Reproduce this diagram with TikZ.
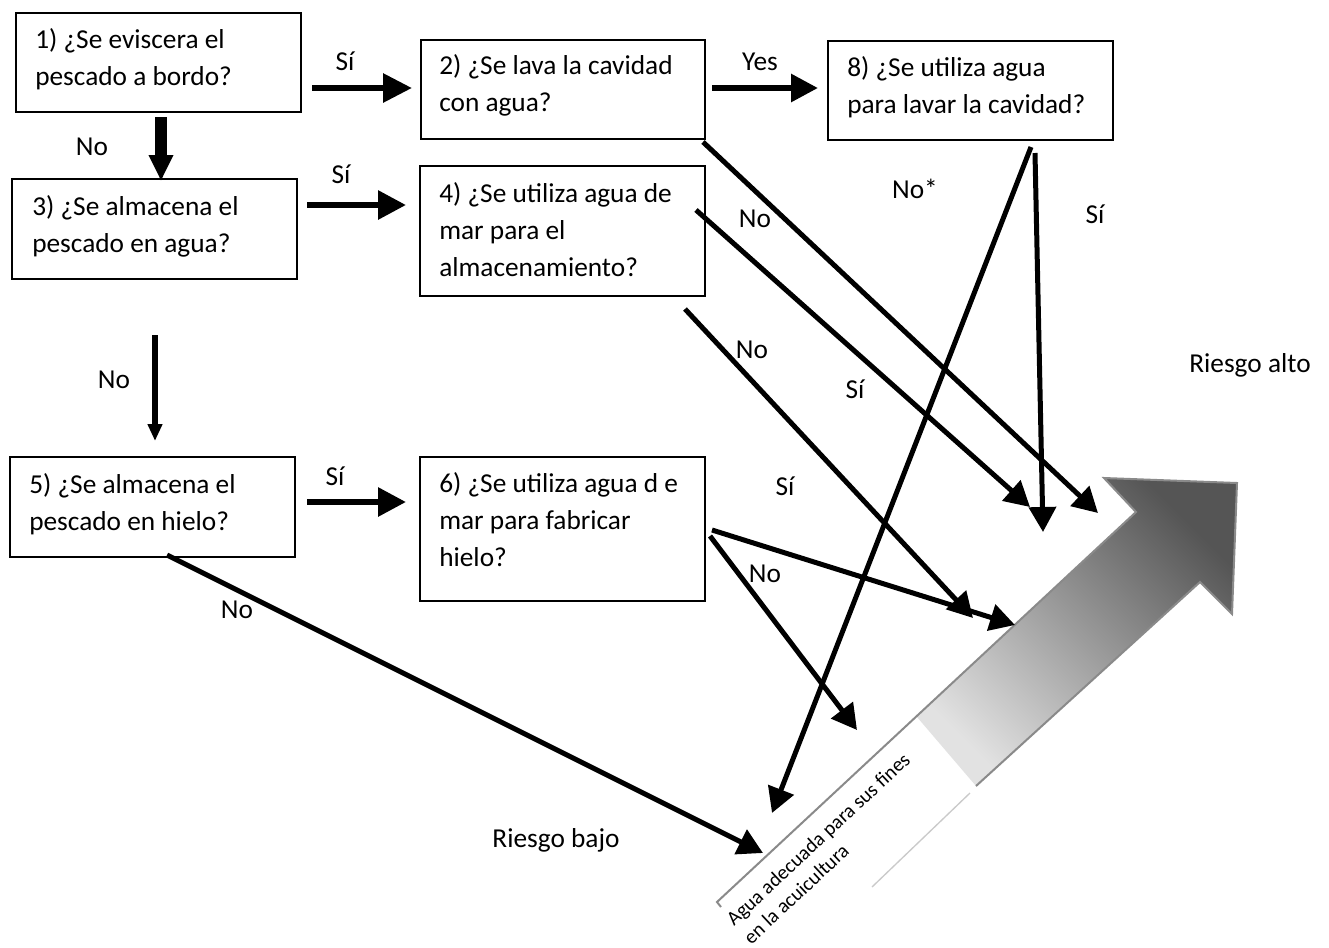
\documentclass[tikz,border=0pt]{standalone}
\usepackage{fontspec}
\setmainfont{Carlito}
\usetikzlibrary{arrows.meta}
\definecolor{outl}{HTML}{8A8A8A}
\definecolor{arrlight}{HTML}{E2E2E2}
\definecolor{arrdark}{HTML}{555555}
\newcommand\qfont{\fontsize{20.5}{27.75}\selectfont}
\newcommand\smallqfont{\fontsize{15.2}{18.75}\selectfont}
\begin{document}
\begin{tikzpicture}[x=0.75pt,y=-0.75pt,
  qbox/.style={draw, line width=1.5pt, anchor=north west, inner sep=0pt},
  qtext/.style={anchor=base west, inner sep=0pt, font=\qfont},
  lbl/.style={anchor=base, inner sep=0pt, font=\qfont},
  flow/.style={line width=4.5pt, -{Triangle[length=21pt,width=21pt]}},
  diag/.style={line width=3.75pt, -{Triangle[length=18.75pt,width=20pt]}},
  bigout/.style={draw=outl, line width=1.5pt, line join=miter}
]
\useasboundingbox[fill=white] (0,0) rectangle (1329,947);

% ---------- big gradient arrow ----------
\shade[bottom color=arrlight, top color=arrdark, shading angle=-45]
  (917,717) -- (1136,512) -- (1104,478) -- (1237,483) -- (1232,614) -- (1200,582) -- (976,786) -- cycle;
\draw[bigout] (721,907) -- (717,902) -- (1136,512) -- (1104,478) -- (1237,483) -- (1232,614) -- (1200,582) -- (976,786);
\draw[outl!45, line width=1pt] (970,793) -- (872,887);
\node[rotate=43, anchor=base west, inner sep=0pt, font=\smallqfont] (agua) at (734,927)
  {\parbox[t]{300pt}{Agua adecuada para sus fines\\en la acuicultura}};

% ---------- boxes ----------
\node[qbox, minimum width=213.75pt, minimum height=74.25pt] (b1) at (15,12) {};
\node[qbox, minimum width=213pt, minimum height=74.25pt] (b2) at (420,39) {};
\node[qbox, minimum width=213.75pt, minimum height=74.25pt] (b8) at (827,40) {};
\node[qbox, minimum width=213.75pt, minimum height=75pt] (b3) at (11,178) {};
\node[qbox, minimum width=213.75pt, minimum height=97.5pt] (b4) at (419,165) {};
\node[qbox, minimum width=213.75pt, minimum height=75pt] (b5) at (9,456) {};
\node[qbox, minimum width=213.75pt, minimum height=108pt] (b6) at (419,456) {};

\node[qtext] (t1) at (35,48) {\parbox[t]{210pt}{1) ¿Se eviscera el\\pescado a bordo?}};
\node[qtext] (t2) at (439,74) {\parbox[t]{210pt}{2) ¿Se lava la cavidad\\con agua?}};
\node[qtext] (t8) at (847,76) {\parbox[t]{210pt}{8) ¿Se utiliza agua\\para lavar la cavidad?}};
\node[qtext] (t3) at (32,215) {\parbox[t]{210pt}{3) ¿Se almacena el\\pescado en agua?}};
\node[qtext] (t4) at (439,202) {\parbox[t]{210pt}{4) ¿Se utiliza agua de\\mar para el\\almacenamiento?}};
\node[qtext] (t5) at (29,493) {\parbox[t]{210pt}{5) ¿Se almacena el\\pescado en hielo?}};
\node[qtext] (t6) at (439,492) {\parbox[t]{210pt}{6) ¿Se utiliza agua d e\\mar para fabricar\\hielo?}};

% ---------- connector end points ----------
\coordinate (s12) at (312,88);   \coordinate (e12) at (412,88);
\coordinate (s13) at (161,117);  \coordinate (e13) at (161,181);
\coordinate (s34) at (307,205);  \coordinate (e34) at (406,205);
\coordinate (s28) at (712,88);   \coordinate (e28) at (818,88);
\coordinate (s35) at (155,335);  \coordinate (e35) at (155,441);
\coordinate (s56) at (307,502);  \coordinate (e56) at (406,502);
\coordinate (sA) at (703,142);   \coordinate (eA) at (1098,513);
\coordinate (sB) at (696,210);   \coordinate (eB) at (1030,507);
\coordinate (sC) at (685,309);   \coordinate (eC) at (973,618);
\coordinate (sD) at (1031,147);  \coordinate (eD) at (772,813);
\coordinate (sE) at (1035,153);  \coordinate (eE) at (1043,532);
\coordinate (sF) at (712,530);   \coordinate (eF) at (1015,625);
\coordinate (sG) at (710,536);   \coordinate (eG) at (857,730);
\coordinate (sH) at (167,555);   \coordinate (eH) at (763,853);

% ---------- flow arrows ----------
\draw[flow, -{Triangle[length=21.75pt,width=21pt]}] (s12) -- (e12);
\draw[line width=9pt, -{Triangle[length=19.5pt,width=17.25pt]}] (s13) -- (e13);
\draw[flow] (s34) -- (e34);
\draw[flow, -{Triangle[length=20.25pt,width=20.25pt]}] (s28) -- (e28);
\draw[line width=4.5pt, -{Triangle[length=12.75pt,width=10.5pt]}] (s35) -- (e35);
\draw[flow] (s56) -- (e56);

% ---------- diagonal arrows ----------
\draw[diag] (sA) -- (eA);
\draw[diag] (sB) -- (eB);
\draw[diag] (sC) -- (eC);
\draw[diag] (sD) -- (eD);
\draw[diag] (sE) -- (eE);
\draw[diag] (sF) -- (eF);
\draw[diag] (sG) -- (eG);
\draw[diag] (sH) -- (eH);

% ---------- labels ----------
\node[lbl] (l12) at (345,70) {Sí};
\node[lbl] (l13) at (92,155) {No};
\node[lbl] (l34) at (341,183) {Sí};
\node[lbl] (l28) at (760,70) {Yes};
\node[lbl] (l35) at (114,388) {No};
\node[lbl] (l56) at (335,485) {Sí};
\node[lbl] (lA) at (755,227) {No};
\node[lbl] (lD) at (915,198) {No*};
\node[lbl] (lE) at (1095,223) {Sí};
\node[lbl] (lC) at (752,358) {No};
\node[lbl] (lB) at (855,398) {Sí};
\node[lbl] (lF) at (785,495) {Sí};
\node[lbl] (lG) at (765,582) {No};
\node[lbl] (lH) at (237,618) {No};
\node[lbl] (ralto) at (1250,372) {Riesgo alto};
\node[lbl] (rbajo) at (556,847) {Riesgo bajo};
\end{tikzpicture}
\end{document}
